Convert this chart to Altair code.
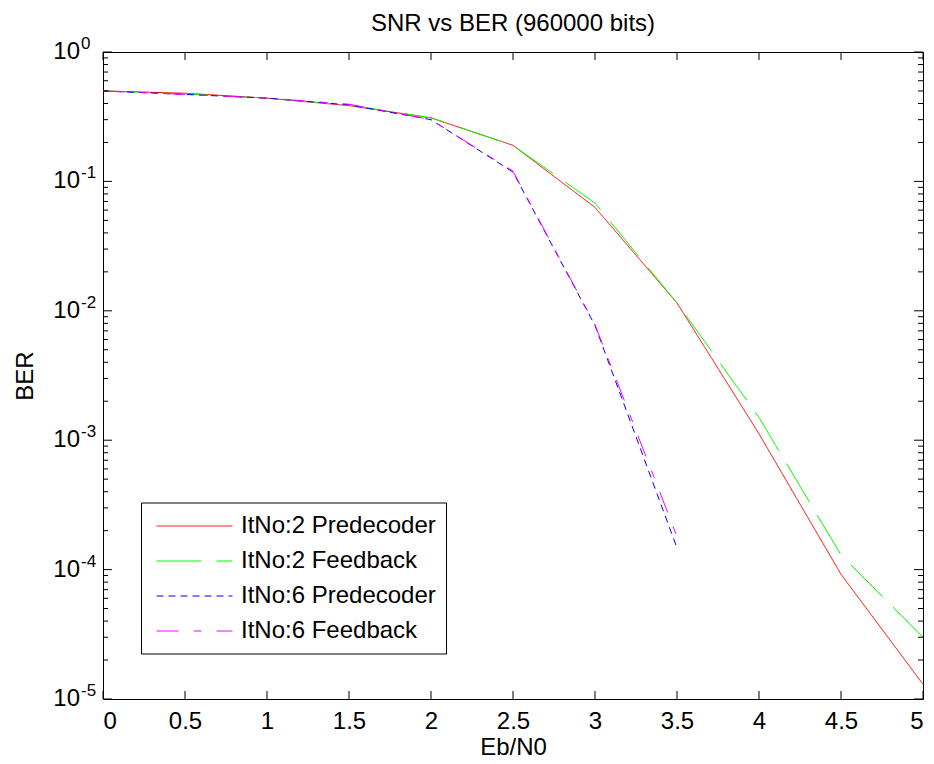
import altair as alt
import pandas as pd

# Eb/N0 grid (dB) and measured bit error rates
ebn0 = [0, 0.5, 1, 1.5, 2, 2.5, 3, 3.5, 4, 4.5, 5]
it2_pred = [0.50, 0.48, 0.44, 0.385, 0.31, 0.19, 0.063, 0.0115, 0.00112, 9.2e-5, 1.3e-5]
it2_fb = [0.50, 0.475, 0.44, 0.39, 0.31, 0.19, 0.068, 0.0115, 0.0015, 1.3e-4, 3.0e-5]

ebn0_it6 = [0, 0.5, 1, 1.5, 2, 2.5, 3, 3.5]
it6_pred = [0.50, 0.47, 0.44, 0.39, 0.30, 0.118, 0.0077, 1.47e-4]
it6_fb = [0.50, 0.47, 0.44, 0.395, 0.30, 0.12, 0.0078, 1.8e-4]

series_names = ["ItNo:2 Predecoder", "ItNo:2 Feedback", "ItNo:6 Predecoder", "ItNo:6 Feedback"]
series_colors = ["#ff0000", "#00ff00", "#0000ff", "#ff00ff"]
series_dashes = [[1, 0], [45, 15], [7, 5], [22, 15, 8, 15]]

x_ticks = [0, 0.5, 1, 1.5, 2, 2.5, 3, 3.5, 4, 4.5, 5]
decade_exps = [0, -1, -2, -3, -4, -5]
minor_mults = [2, 3, 4, 5, 6, 7, 8, 9]

W, H = 820, 647
FONT = "Liberation Sans"
FS = 24

rows = []
for name, xs, ys in [
    (series_names[0], ebn0, it2_pred),
    (series_names[1], ebn0, it2_fb),
    (series_names[2], ebn0_it6, it6_pred),
    (series_names[3], ebn0_it6, it6_fb),
]:
    for i, (xv, yv) in enumerate(zip(xs, ys)):
        rows.append({"series": name, "ebn0": xv, "ber": yv, "order": i})
lines_df = pd.DataFrame(rows)

xtick_df = pd.DataFrame({"v": x_ticks})
major_df = pd.DataFrame({"v": [10.0 ** e for e in decade_exps],
                         "base": ["10"] * len(decade_exps),
                         "exp": [str(e) for e in decade_exps]})
minor_df = pd.DataFrame({"v": [m * 10.0 ** e for e in decade_exps[1:] for m in minor_mults]})

x_scale = alt.Scale(domain=[0, 5], nice=False, zero=False)
y_scale = alt.Scale(type="log", domain=[1e-5, 1], nice=False)

x_axis = alt.Axis(values=x_ticks, format="~g", ticks=False, domain=False, grid=False,
                  labelFont=FONT, labelFontSize=FS, labelColor="black", labelPadding=10,
                  titleFont=FONT, titleFontSize=FS, titleFontWeight="normal", titleColor="black",
                  titlePadding=2)
y_axis = alt.Axis(labels=False, ticks=False, domain=False, grid=False,
                  titleFont=FONT, titleFontSize=FS, titleFontWeight="normal", titleColor="black",
                  titlePadding=66)


def xq(field):
    return alt.X(field, type="quantitative", scale=x_scale, axis=x_axis, title="Eb/N0")


def yq(field):
    return alt.Y(field, type="quantitative", scale=y_scale, axis=y_axis, title="BER")


# single legend; each sample takes colour and dash pattern from the curves' scales.
# The sample is a wide horizontal segment (path spans about three symbol widths).
legend_cfg = alt.Legend(title=None, orient="none", legendX=38, legendY=450.5,
                        symbolType="M-2.92,0H2.92", symbolSize=676, symbolStrokeWidth=1,
                        symbolStrokeColor=alt.ExprRef(expr="scale('color', datum.value)"),
                        symbolDash=alt.ExprRef(expr="scale('strokeDash', datum.value)"),
                        symbolFillColor="transparent", symbolOpacity=1,
                        symbolOffset=30, labelOffset=33, labelLimit=400,
                        labelFont=FONT, labelFontSize=FS, labelColor="black",
                        rowPadding=9, padding=10,
                        strokeColor="black", fillColor="white", cornerRadius=0)

curves = alt.Chart(lines_df).mark_line(strokeWidth=1, clip=True).encode(
    x=xq("ebn0"),
    y=yq("ber"),
    color=alt.Color("series:N",
                    scale=alt.Scale(domain=series_names, range=series_colors),
                    legend=legend_cfg),
    strokeDash=alt.StrokeDash("series:N",
                              scale=alt.Scale(domain=series_names, range=series_dashes),
                              legend=None),
    order="order:Q",
)

# inward tick marks on all four sides
xb = alt.Chart(xtick_df).mark_rule(color="black", strokeWidth=1).encode(
    x=xq("v"), y=alt.value(H), y2=alt.value(H - 8))
xt = alt.Chart(xtick_df).mark_rule(color="black", strokeWidth=1).encode(
    x=xq("v"), y=alt.value(0), y2=alt.value(8))
yl = alt.Chart(major_df).mark_rule(color="black", strokeWidth=1).encode(
    y=yq("v"), x=alt.value(0), x2=alt.value(9))
yr = alt.Chart(major_df).mark_rule(color="black", strokeWidth=1).encode(
    y=yq("v"), x=alt.value(W), x2=alt.value(W - 9))
yl_minor = alt.Chart(minor_df).mark_rule(color="black", strokeWidth=1).encode(
    y=yq("v"), x=alt.value(0), x2=alt.value(5))
yr_minor = alt.Chart(minor_df).mark_rule(color="black", strokeWidth=1).encode(
    y=yq("v"), x=alt.value(W), x2=alt.value(W - 5))

# decade labels written as 10 with a raised exponent
base_lbl = alt.Chart(major_df).mark_text(align="right", baseline="middle", font=FONT,
                                         fontSize=FS, color="black").encode(
    y=yq("v"), x=alt.value(-23), text="base:N")
exp_lbl = alt.Chart(major_df).mark_text(align="left", baseline="alphabetic", font=FONT,
                                        fontSize=17, color="black", dy=-3).encode(
    y=yq("v"), x=alt.value(-22), text="exp:N")

chart = alt.layer(
    curves, xb, xt, yl, yr, yl_minor, yr_minor, base_lbl, exp_lbl
).properties(
    width=W, height=H,
    title=alt.TitleParams("SNR vs BER (960000 bits)", font=FONT, fontSize=FS,
                          fontWeight="normal", color="black", offset=-1),
    autosize=alt.AutoSizeParams(type="none"),
    padding={"left": 103, "top": 52, "right": 11, "bottom": 65},
    background="white",
).configure_view(stroke="black", strokeWidth=1)

chart.save("out.html", embed_options={"renderer": "svg", "actions": False})
